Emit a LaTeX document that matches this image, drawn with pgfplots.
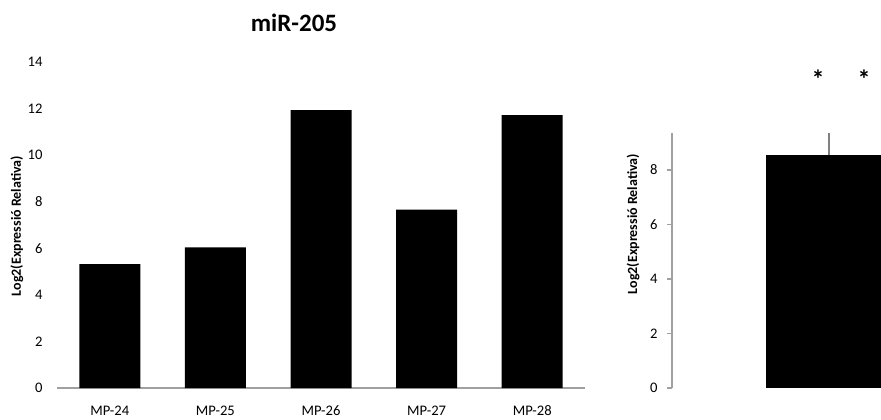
\documentclass[border=0pt]{standalone}
\usepackage{fontspec}
\setmainfont{Carlito}
\usepackage{pgfplots}
\pgfplotsset{compat=1.18}
\definecolor{axgray}{HTML}{A0A0A0}
\begin{document}
\begin{tikzpicture}
\useasboundingbox (0,0) rectangle (440.5pt,209.5pt);
\clip (0,0) rectangle (440.5pt,209.5pt);
% Left chart
\begin{axis}[
  at={(28.5pt,15.5pt)}, anchor=south west,
  scale only axis, width=264pt, height=163pt,
  xmin=-0.5, xmax=4.5, ymin=0, ymax=14,
  ytick={0,2,...,14},
  xtick={0,1,2,3,4},
  xticklabels={MP-24,MP-25,MP-26,MP-27,MP-28},
  axis x line*=bottom, axis y line*=left,
  y axis line style={draw=none},
  x axis line style={draw=axgray, line width=0.7pt, -},
  xtick style={draw=none}, ytick style={draw=none},
  /pgf/number format/assume math mode=true,
  ticklabel style={font=\fontsize{7.3}{8}\selectfont},
  yticklabel style={xshift=-3.7pt},
  xticklabel style={yshift=-5.2pt, text height=5pt, text depth=1pt},
  ylabel={Log2(Expressió Relativa)},
  ylabel style={font=\bfseries\fontsize{7}{8}\selectfont, at={(axis description cs:-0.0758,0.497)}, anchor=center},
  clip=false,
]
\addplot[ybar, bar width=30.5pt, fill=black, draw=none] coordinates {
  (0,5.32) (1,6.04) (2,11.93) (3,7.66) (4,11.72)
};
\end{axis}
\node[font=\bfseries\fontsize{12.5}{14}\selectfont, anchor=base] at (147pt,193.5pt) {miR-205};
% Right chart
\begin{axis}[
  at={(336pt,15.5pt)}, anchor=south west,
  scale only axis, width=157pt, height=127.5pt,
  xmin=0, xmax=2, ymin=0, ymax=9.36,
  ytick={0,2,4,6,8},
  axis y line*=left, axis x line=none,
  y axis line style={draw=axgray, line width=0.7pt, -},
  ytick style={draw=axgray, line width=0.6pt},
  tick align=outside, major tick length=2.5pt,
  /pgf/number format/assume math mode=true,
  ticklabel style={font=\fontsize{7.3}{8}\selectfont},
  yticklabel style={xshift=-1.2pt},
  ylabel={Log2(Expressió Relativa)},
  ylabel style={font=\bfseries\fontsize{7}{8}\selectfont, at={(axis description cs:-0.124,0.643)}, anchor=center},
  clip=false,
]
\addplot[ybar, bar width=63pt, fill=black, draw=none,
  error bars/.cd, y dir=plus, y explicit,
  error bar style={draw=gray, line width=1pt}, error mark=none]
  coordinates {(1,8.55) +- (0,0.81)};
\node[font=\bfseries\fontsize{13}{14}\selectfont, anchor=base] at (axis cs:0.930,11.0) {*};
\node[font=\bfseries\fontsize{13}{14}\selectfont, anchor=base] at (axis cs:1.223,11.0) {*};
\end{axis}
\end{tikzpicture}
\end{document}
